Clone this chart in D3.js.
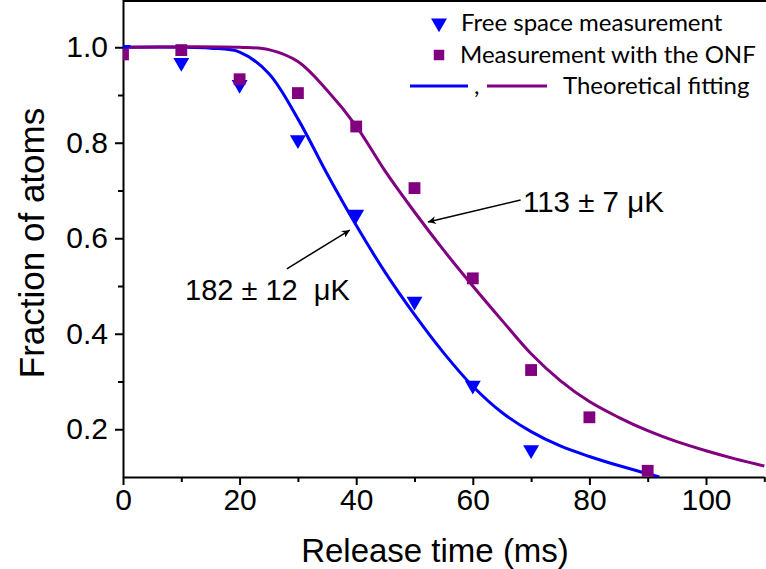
<!DOCTYPE html>
<html lang="en">
  <head>
    <meta charset="UTF-8" />
    <title>Fraction of atoms vs release time</title>
    <script src="https://d3js.org/d3.v7.min.js"></script>
    <style>
      body {
        margin: 0;
        background: #fff;
      }
      svg {
        display: block;
        font-family: "Liberation Sans", Arial, sans-serif;
      }
      .axis path,
      .axis line {
        stroke: #000;
        stroke-width: 2px;
      }
      .axis text {
        font-size: 30px;
        fill: #000;
      }
      .legend text {
        font-family: Lato, "Open Sans", sans-serif;
        font-size: 24px;
        fill: #000;
      }
    </style>
  </head>
  <body>
    <svg id="chart"></svg>
    <script>
      // measured points
      const freeTime = [0, 10, 20, 30, 40, 50, 60, 70];
      const freeValue = [0.995, 0.968, 0.922, 0.806, 0.65, 0.468, 0.292, 0.157];
      const onfTime = [0, 10, 20, 30, 40, 50, 60, 70, 80, 90];
      const onfValue = [0.985, 0.994, 0.933, 0.904, 0.834, 0.705, 0.516, 0.324, 0.225, 0.113];

      // fitted curves
      const fitFreeTime = [0, 10, 15, 20, 25, 30, 35, 40, 45, 50, 55, 60, 65, 70, 75, 80, 85, 90, 92];
      const fitFreeValue = [1.0, 1.0, 0.998, 0.99, 0.945, 0.85, 0.735, 0.627, 0.528, 0.44, 0.36, 0.29, 0.235, 0.195, 0.165, 0.143, 0.124, 0.107, 0.1];
      const fitOnfTime = [0, 20, 25, 30, 35, 40, 45, 50, 55, 60, 65, 70, 75, 80, 85, 90, 95, 100, 105, 110];
      const fitOnfValue = [1.0, 1.0, 0.995, 0.97, 0.91, 0.835, 0.74, 0.655, 0.575, 0.5, 0.428, 0.358, 0.302, 0.258, 0.225, 0.197, 0.174, 0.155, 0.138, 0.123];

      const xTicks = [0, 20, 40, 60, 80, 100];
      const xMinor = [10, 30, 50, 70, 90, 110];
      const yTicks = [0.2, 0.4, 0.6, 0.8, 1.0];
      const yMinor = [0.3, 0.5, 0.7, 0.9];

      const legendLabels = ["Free space measurement", "Measurement with the ONF", "Theoretical fitting"];
      const freeLabel = "182 ± 12  μK";
      const onfLabel = "113 ± 7 μK";

      const width = 766;
      const height = 569;
      const left = 123;
      const bottom = 477;

      const blue = "#0000ff";
      const purple = "#800080";

      const svg = d3.select("#chart").attr("width", width).attr("height", height);

      const x = d3.scaleLinear().domain([0, 110]).range([left, left + 110 * 5.83]);
      const y = d3.scaleLinear().domain([0.1, 1.1]).range([bottom, bottom - 477.5]);

      const defs = svg.append("defs");
      defs
        .append("clipPath")
        .attr("id", "plot")
        .append("rect")
        .attr("x", left)
        .attr("y", 0)
        .attr("width", width - left)
        .attr("height", bottom);

      defs
        .append("marker")
        .attr("id", "arrow")
        .attr("viewBox", "0 0 10 10")
        .attr("refX", 10)
        .attr("refY", 5)
        .attr("markerWidth", 12)
        .attr("markerHeight", 8)
        .attr("markerUnits", "userSpaceOnUse")
        .attr("orient", "auto")
        .append("path")
        .attr("d", "M0,0 L10,5 L0,10 L3,5 Z")
        .attr("fill", "#000");

      // axes
      svg
        .append("g")
        .attr("class", "axis")
        .attr("transform", `translate(0,${bottom})`)
        .call(d3.axisBottom(x).tickValues(xTicks).tickSize(8).tickSizeOuter(0).tickPadding(4).tickFormat(d3.format("d")));
      svg
        .append("g")
        .attr("class", "axis")
        .attr("transform", `translate(0,${bottom})`)
        .call(d3.axisBottom(x).tickValues(xMinor).tickSize(5).tickSizeOuter(0).tickFormat(""))
        .select(".domain")
        .remove();

      svg
        .append("g")
        .attr("class", "axis")
        .attr("transform", `translate(${left},0)`)
        .call(d3.axisLeft(y).tickValues(yTicks).tickSize(8).tickSizeOuter(0).tickPadding(7).tickFormat(d3.format(".1f")));
      svg
        .append("g")
        .attr("class", "axis")
        .attr("transform", `translate(${left},0)`)
        .call(d3.axisLeft(y).tickValues(yMinor).tickSize(5).tickSizeOuter(0).tickFormat(""))
        .select(".domain")
        .remove();

      // top frame
      svg
        .append("line")
        .attr("x1", left)
        .attr("x2", width)
        .attr("y1", 1)
        .attr("y2", 1)
        .attr("stroke", "#000")
        .attr("stroke-width", 2);

      svg
        .append("text")
        .attr("x", 435)
        .attr("y", 562)
        .attr("text-anchor", "middle")
        .style("font-size", "33px")
        .text("Release time (ms)");

      svg
        .append("text")
        .attr("transform", "translate(44,243) rotate(-90)")
        .attr("text-anchor", "middle")
        .style("font-size", "35px")
        .text("Fraction of atoms");

      const plot = svg.append("g").attr("clip-path", "url(#plot)");

      const line = d3
        .line()
        .x((d) => x(d[0]))
        .y((d) => y(d[1]))
        .curve(d3.curveCatmullRom);

      plot
        .append("path")
        .datum(d3.zip(fitFreeTime, fitFreeValue))
        .attr("d", line)
        .attr("fill", "none")
        .attr("stroke", blue)
        .attr("stroke-width", 3);

      plot
        .append("path")
        .datum(d3.zip(fitOnfTime, fitOnfValue))
        .attr("d", line)
        .attr("fill", "none")
        .attr("stroke", purple)
        .attr("stroke-width", 3);

      const tri = d3.symbol().type(d3.symbolTriangle).size(110);
      const sq = d3.symbol().type(d3.symbolSquare).size(140);

      plot
        .selectAll(".free")
        .data(d3.zip(freeTime, freeValue))
        .enter()
        .append("path")
        .attr("class", "free")
        .attr("d", tri)
        .attr("transform", (d) => `translate(${x(d[0])},${y(d[1])}) rotate(180)`)
        .attr("fill", blue);

      plot
        .selectAll(".onf")
        .data(d3.zip(onfTime, onfValue))
        .enter()
        .append("path")
        .attr("class", "onf")
        .attr("d", sq)
        .attr("transform", (d) => `translate(${x(d[0])},${y(d[1])})`)
        .attr("fill", purple);

      // annotations
      svg
        .append("line")
        .attr("x1", x(28.1))
        .attr("y1", y(0.536))
        .attr("x2", x(38.9))
        .attr("y2", y(0.617))
        .attr("stroke", "#000")
        .attr("stroke-width", 1.5)
        .attr("marker-end", "url(#arrow)");
      svg
        .append("text")
        .attr("x", 185)
        .attr("y", 300)
        .style("font-size", "29px")
        .style("white-space", "pre")
        .text(freeLabel);

      svg
        .append("line")
        .attr("x1", x(68.2))
        .attr("y1", y(0.68))
        .attr("x2", x(52.3))
        .attr("y2", y(0.634))
        .attr("stroke", "#000")
        .attr("stroke-width", 1.5)
        .attr("marker-end", "url(#arrow)");
      svg
        .append("text")
        .attr("x", 523)
        .attr("y", 212)
        .style("font-size", "29.5px")
        .style("white-space", "pre")
        .text(onfLabel);

      // legend
      const legend = svg.append("g").attr("class", "legend");
      legend
        .append("path")
        .attr("d", tri)
        .attr("transform", "translate(439,23) rotate(180)")
        .attr("fill", blue);
      legend.append("text").attr("x", 461).attr("y", 31).text(legendLabels[0]);
      legend
        .append("path")
        .attr("d", d3.symbol().type(d3.symbolSquare).size(110))
        .attr("transform", "translate(439,55)")
        .attr("fill", purple);
      legend.append("text").attr("x", 460).attr("y", 63).text(legendLabels[1]);
      legend
        .append("line")
        .attr("x1", 410)
        .attr("x2", 468)
        .attr("y1", 86)
        .attr("y2", 86)
        .attr("stroke", blue)
        .attr("stroke-width", 3);
      legend.append("text").attr("x", 474).attr("y", 94).text(",");
      legend
        .append("line")
        .attr("x1", 487)
        .attr("x2", 547)
        .attr("y1", 86)
        .attr("y2", 86)
        .attr("stroke", purple)
        .attr("stroke-width", 3);
      legend.append("text").attr("x", 563).attr("y", 94).text(legendLabels[2]);
    </script>
  </body>
</html>
